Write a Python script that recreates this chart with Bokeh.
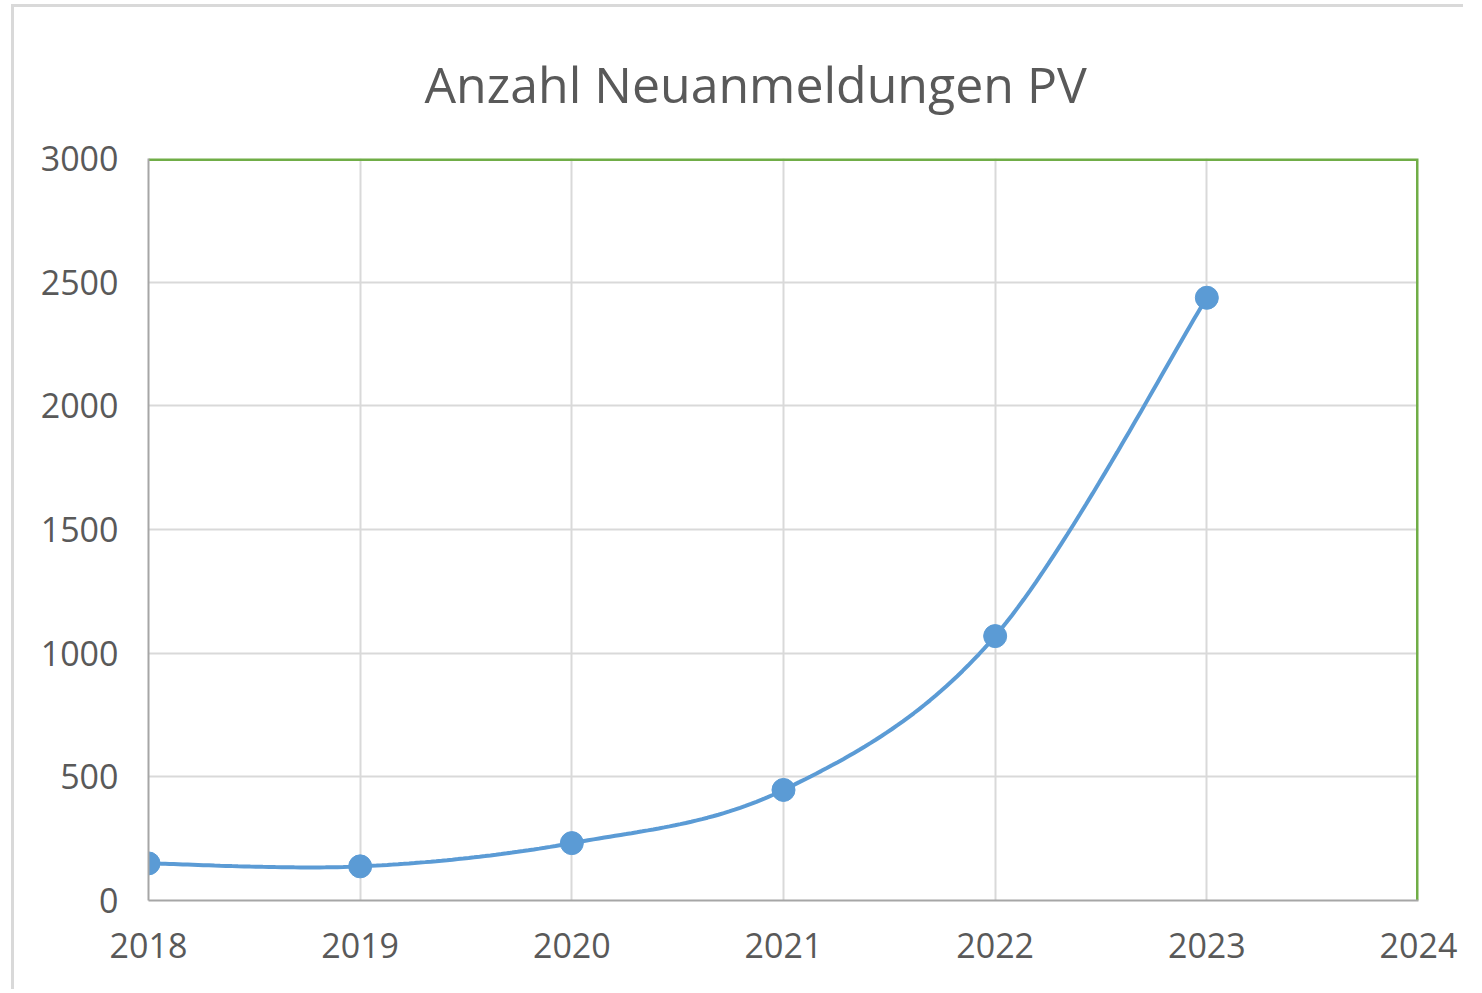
from bokeh.plotting import figure
from bokeh.models import Range1d, FixedTicker, Title
from bokeh.embed import file_html
from bokeh.resources import INLINE
import numpy as np

# ---- data ----
years = [2018, 2019, 2020, 2021, 2022, 2023]
anmeldungen = [150, 138, 232, 447, 1069, 2437]
x_ticks = [2018, 2019, 2020, 2021, 2022, 2023, 2024]
y_ticks = [0, 500, 1000, 1500, 2000, 2500, 3000]
title_text = "Anzahl Neuanmeldungen PV"

# ---- smooth curve (Excel-like Catmull-Rom / Bezier through data points) ----
def smooth(xs, ys, n=40):
    xs = np.asarray(xs, float); ys = np.asarray(ys, float)
    px = np.concatenate([[xs[0]], xs, [xs[-1]]])
    py = np.concatenate([[ys[0]], ys, [ys[-1]]])
    ox, oy = [], []
    for i in range(1, len(px) - 2):
        p0 = np.array([px[i-1], py[i-1]]); p1 = np.array([px[i], py[i]])
        p2 = np.array([px[i+1], py[i+1]]); p3 = np.array([px[i+2], py[i+2]])
        c1 = p1 + (p2 - p0) / 6.0
        c2 = p2 - (p3 - p1) / 6.0
        t = np.linspace(0, 1, n)[:, None]
        b = ((1-t)**3)*p1 + 3*((1-t)**2)*t*c1 + 3*(1-t)*t**2*c2 + t**3*p2
        ox.extend(b[:, 0]); oy.extend(b[:, 1])
    return ox, oy

sx, sy = smooth(years, anmeldungen)

FONT = "Open Sans"
TXT = "#595959"

p = figure(width=1452, height=985, output_backend="svg", toolbar_location=None,
           x_range=Range1d(2018, 2024), y_range=Range1d(0, 3000),
           min_border_left=134, min_border_right=48, min_border_top=151, min_border_bottom=92)
p.title = None
t = Title(text=title_text, align="left", offset=276, text_font=FONT, text_font_size="50px",
          text_font_style="normal", text_color=TXT, standoff=81)
p.add_layout(t, "above")
p.min_border_top = 151

p.background_fill_color = "white"
p.border_fill_color = "white"
p.outline_line_color = None

# grid
p.xgrid.ticker = FixedTicker(ticks=x_ticks)
p.ygrid.ticker = FixedTicker(ticks=y_ticks)
for g in (p.xgrid, p.ygrid):
    g.grid_line_color = "#d9d9d9"
    g.grid_line_width = 2

# axes
for ax in (p.xaxis, p.yaxis):
    ax.axis_line_color = "#a6a6a6"
    ax.axis_line_width = 2
    ax.major_tick_line_color = None
    ax.minor_tick_line_color = None
    ax.major_label_text_font = FONT
    ax.major_label_text_font_size = "34px"
    ax.major_label_text_color = TXT
p.xaxis.ticker = FixedTicker(ticks=x_ticks)
p.yaxis.ticker = FixedTicker(ticks=y_ticks)
p.yaxis.major_label_standoff = 24
p.xaxis.major_label_standoff = 26

# green top/right borders of plot area
p.line(x=[2018, 2024, 2024], y=[3000, 3000, 0], line_color="#70ad47", line_width=5)

p.line(sx, sy, line_color="#5b9bd5", line_width=4)
p.scatter(years, anmeldungen, size=23, fill_color="#5b9bd5", line_color="#5b9bd5")

# light outer chart border (left and top)
p.styles = {"border-left": "3px solid #d9d9d9", "border-top": "3px solid #d9d9d9",
            "margin-left": "11px", "margin-top": "4px"}

open("out.html", "w").write(file_html(p, INLINE))
